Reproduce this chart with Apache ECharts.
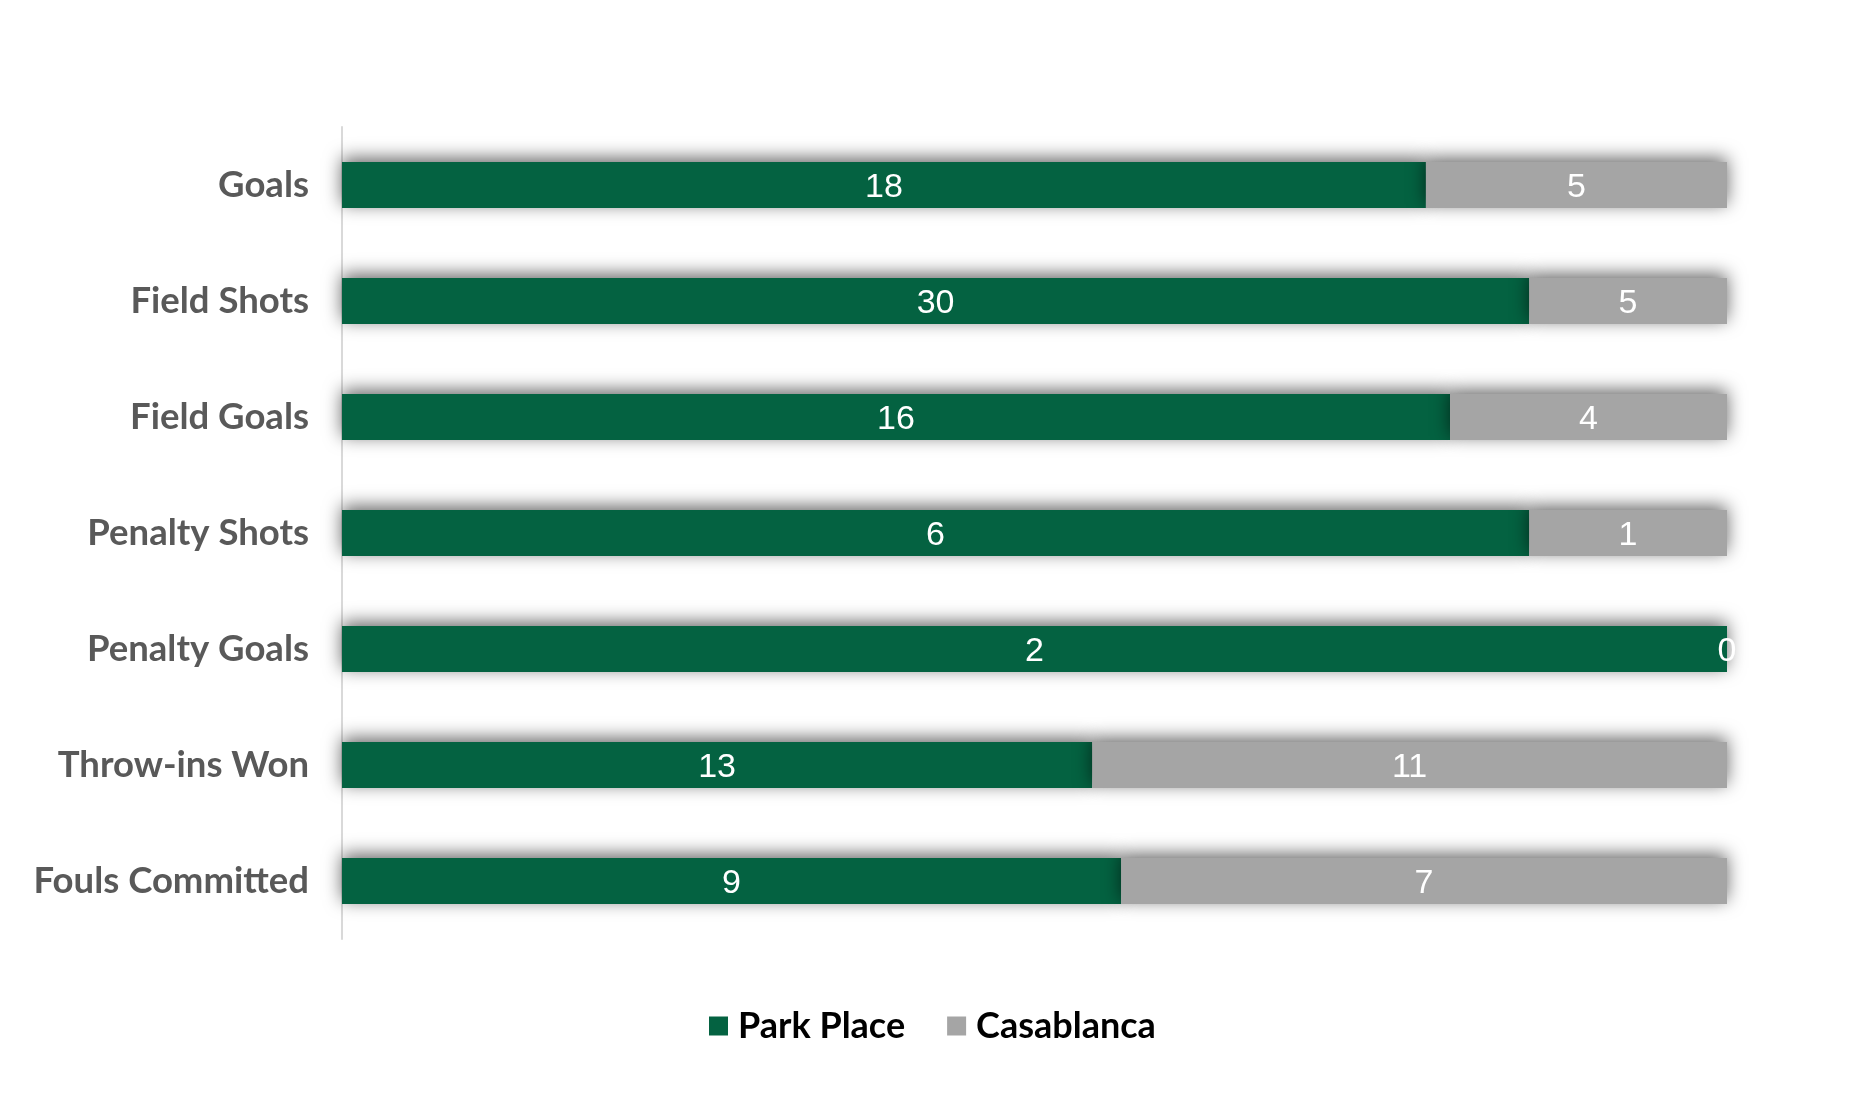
<!DOCTYPE html>
<html><head><meta charset="utf-8">
<script src="https://cdn.jsdelivr.net/npm/echarts@6/dist/echarts.min.js"></script>
<style>html,body{margin:0;padding:0;background:#fff}#c{width:1851px;height:1095px}</style>
</head><body><div id="c"></div>
<script>
const categories = ['Goals','Field Shots','Field Goals','Penalty Shots','Penalty Goals','Throw-ins Won','Fouls Committed'];
const parkPlace = [18, 30, 16, 6, 2, 13, 9];
const casablanca = [5, 5, 4, 1, 0, 11, 7];
const seriesNames = ['Park Place', 'Casablanca'];

const totals = parkPlace.map((v, i) => v + casablanca[i]);
const pct = arr => arr.map((v, i) => ({ value: v / totals[i] * 100, raw: v }));

const chart = echarts.init(document.getElementById('c'));
const shadow = { shadowBlur: 18, shadowOffsetY: -4, shadowColor: 'rgba(0,0,0,0.6)' };
const label = {
  show: true, position: 'inside', color: '#fff', fontFamily: 'Liberation Sans, Arial', fontSize: 34,
  offset: [0, 3],
  formatter: p => p.data.raw
};
chart.setOption({
  animation: false,
  grid: { left: 342, right: 124, top: 127, bottom: 156 },
  legend: {
    data: seriesNames, bottom: 46, left: 704, itemWidth: 19, itemHeight: 19, itemGap: 42,
    padding: 5,
    icon: 'rect',
    textStyle: { fontFamily: 'Lato', fontWeight: 'bold', fontSize: 36, color: '#000', padding: [0, 0, 0, 5] }
  },
  xAxis: { type: 'value', min: 0, max: 100, show: false },
  yAxis: {
    type: 'category', data: categories, inverse: true,
    axisLine: { show: true, lineStyle: { color: '#d9d9d9', width: 2 } },
    axisTick: { show: false },
    axisLabel: { fontFamily: 'Lato', fontWeight: 'bold', fontSize: 36.5, color: '#595959', margin: 33 }
  },
  series: [
    { name: seriesNames[0], type: 'bar', stack: 's', barWidth: 46, data: pct(parkPlace),
      itemStyle: Object.assign({ color: '#046241' }, shadow), label },
    { name: seriesNames[1], type: 'bar', stack: 's', barWidth: 46, data: pct(casablanca),
      itemStyle: Object.assign({ color: '#a5a5a5' }, shadow), label }
  ]
});
</script></body></html>
